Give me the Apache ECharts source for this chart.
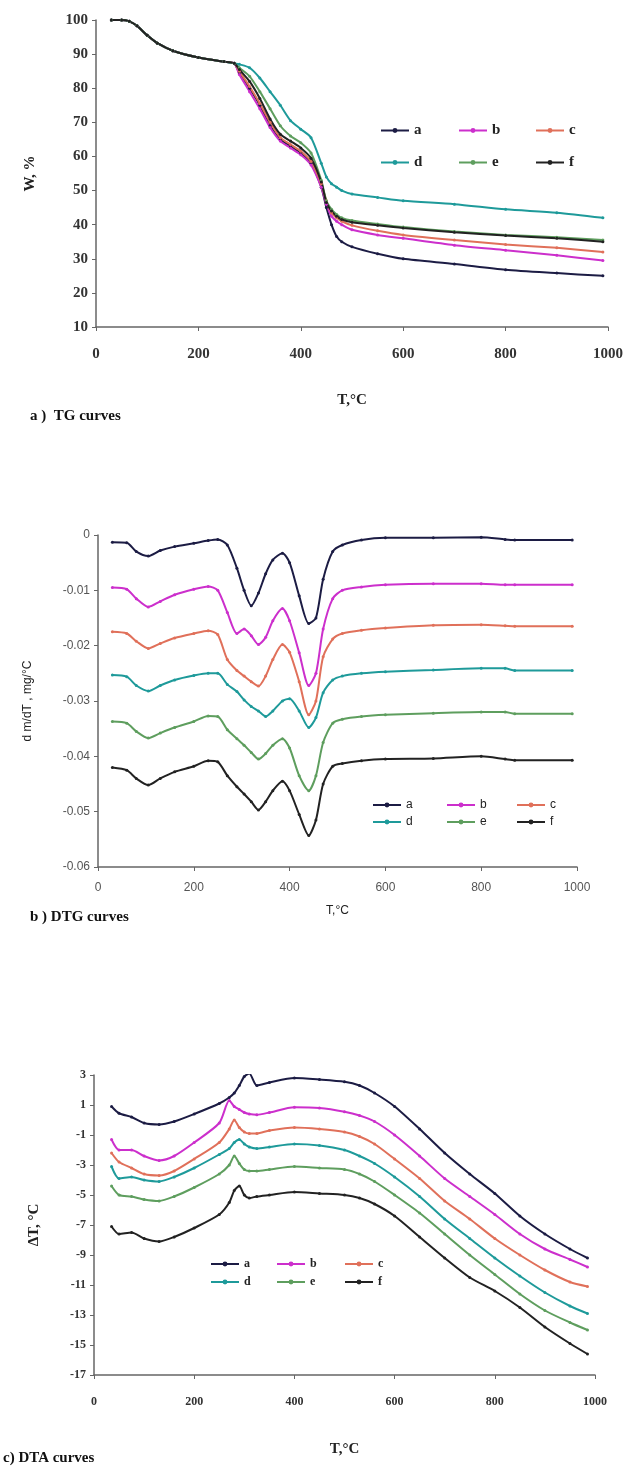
<!DOCTYPE html>
<html><head><meta charset="utf-8">
<script src="https://cdn.jsdelivr.net/npm/echarts@6/dist/echarts.min.js"></script>
<style>html,body{margin:0;padding:0;background:#fff}#c{width:629px;height:1470px}</style>
</head><body><div id="c"></div>
<script>
// ---------- data ----------
var seriesNames = ['a','b','c','d','e','f'];
var xTicks = [0,200,400,600,800,1000];

// TG (W, %)
var tgT = [30,50,65,80,100,120,150,200,250,270,280,300,320,340,360,380,400,420,440,450,460,470,480,500,550,600,700,800,900,990];
var tgA = [100,100,99.6,98.3,95.5,93.2,91,89,87.8,87.3,84.5,80,75,69,65,63,61,58,51,45,40,36.5,35,33.5,31.5,30,28.5,26.8,25.8,25];
var tgB = [100,100,99.6,98.3,95.5,93.2,91,89,87.8,87.3,84,79,74,68.5,64.5,62.5,60.5,57.5,51,46,42.5,41,40,38.5,37,36,34,32.5,31,29.5];
var tgC = [100,100,99.6,98.3,95.5,93.2,91,89,87.8,87.3,85,80.5,75.5,70,65.5,63.5,61.5,58.5,52,47,43.5,42,41,39.8,38.2,37,35.5,34.2,33.2,32];
var tgD = [100,100,99.6,98.3,95.5,93.2,91,89,87.8,87.3,87,86,83,79,75,70.5,68,65.5,58,54,52,51,50,49,48,47,46,44.5,43.5,42];
var tgE = [100,100,99.6,98.3,95.5,93.2,91,89,87.8,87.3,86,83.5,79,74,69,66,64,61,53,47,44.5,43,42,41.2,40.2,39.3,38,37,36.3,35.5];
var tgF = [100,100,99.6,98.3,95.5,93.2,91,89,87.8,87.3,85.5,82,77,71,66.5,64.5,62.5,59.5,52.5,46.5,44,42.5,41.5,40.7,39.8,39,37.8,36.8,36,35];

// DTG (dm/dT, mg/°C)
var dtgT = [30,60,80,105,130,160,200,230,250,270,290,305,320,335,350,365,385,400,420,440,455,470,490,510,550,600,700,800,850,870,990];
var dtgA = [-0.0013,-0.0014,-0.003,-0.0038,-0.0028,-0.0021,-0.0015,-0.001,-0.0008,-0.0018,-0.006,-0.01,-0.0128,-0.0105,-0.007,-0.0045,-0.0033,-0.005,-0.011,-0.016,-0.015,-0.008,-0.003,-0.0018,-0.0009,-0.0005,-0.0005,-0.0004,-0.0008,-0.0009,-0.0009];
var dtgB = [-0.0095,-0.0098,-0.0115,-0.013,-0.012,-0.0108,-0.0098,-0.0093,-0.01,-0.014,-0.0178,-0.017,-0.0182,-0.0198,-0.0185,-0.0155,-0.0133,-0.0155,-0.0213,-0.0272,-0.025,-0.017,-0.0115,-0.01,-0.0094,-0.009,-0.0088,-0.0088,-0.009,-0.009,-0.009];
var dtgC = [-0.0175,-0.0178,-0.0192,-0.0205,-0.0196,-0.0186,-0.0178,-0.0173,-0.018,-0.0225,-0.0245,-0.0255,-0.0265,-0.0273,-0.0255,-0.0225,-0.0198,-0.0212,-0.0265,-0.0325,-0.03,-0.022,-0.0188,-0.0178,-0.0172,-0.0168,-0.0163,-0.0162,-0.0164,-0.0165,-0.0165];
var dtgD = [-0.0253,-0.0256,-0.0272,-0.0282,-0.0272,-0.0262,-0.0254,-0.025,-0.025,-0.027,-0.0283,-0.0298,-0.031,-0.0318,-0.0328,-0.0318,-0.03,-0.0296,-0.0318,-0.0348,-0.033,-0.0285,-0.0262,-0.0255,-0.025,-0.0247,-0.0244,-0.0241,-0.0241,-0.0245,-0.0245];
var dtgE = [-0.0337,-0.034,-0.0355,-0.0367,-0.0358,-0.0348,-0.0337,-0.0327,-0.0328,-0.0352,-0.0368,-0.038,-0.0393,-0.0405,-0.0395,-0.038,-0.0368,-0.0385,-0.0435,-0.0462,-0.0435,-0.0375,-0.034,-0.0333,-0.0328,-0.0325,-0.0322,-0.032,-0.032,-0.0323,-0.0323];
var dtgF = [-0.042,-0.0425,-0.044,-0.0452,-0.044,-0.0428,-0.0418,-0.0408,-0.041,-0.0435,-0.0455,-0.0468,-0.0482,-0.0497,-0.0482,-0.0462,-0.0445,-0.0462,-0.0505,-0.0543,-0.0515,-0.045,-0.0418,-0.0413,-0.0408,-0.0405,-0.0404,-0.04,-0.0405,-0.0407,-0.0407];

// DTA (ΔT, °C)
var dtaT = [35,50,75,100,130,160,200,250,270,280,290,300,310,325,350,400,450,500,530,560,600,650,700,750,800,850,900,950,985];
var dtaA = [0.9,0.45,0.2,-0.2,-0.3,-0.1,0.4,1.1,1.5,1.8,2.3,2.9,3.1,2.3,2.5,2.8,2.7,2.55,2.3,1.8,0.9,-0.6,-2.2,-3.6,-4.9,-6.4,-7.6,-8.6,-9.2];
var dtaB = [-1.3,-2.0,-2.0,-2.4,-2.7,-2.4,-1.5,-0.2,1.3,0.9,0.7,0.5,0.4,0.35,0.5,0.85,0.8,0.55,0.3,-0.1,-1.0,-2.4,-3.9,-5.1,-6.3,-7.6,-8.6,-9.3,-9.8];
var dtaC = [-2.2,-2.8,-3.2,-3.6,-3.7,-3.4,-2.6,-1.5,-0.6,0.0,-0.5,-0.8,-0.9,-0.9,-0.7,-0.5,-0.6,-0.8,-1.1,-1.6,-2.6,-3.9,-5.4,-6.6,-7.9,-9.0,-10.0,-10.8,-11.1];
var dtaD = [-3.1,-3.9,-3.8,-4.0,-4.1,-3.8,-3.2,-2.3,-1.9,-1.5,-1.3,-1.6,-1.8,-1.9,-1.8,-1.6,-1.7,-2.0,-2.4,-2.9,-3.8,-5.1,-6.6,-7.9,-9.2,-10.4,-11.5,-12.4,-12.9];
var dtaE = [-4.4,-5.0,-5.1,-5.3,-5.4,-5.1,-4.5,-3.6,-3.0,-2.4,-2.9,-3.3,-3.4,-3.4,-3.3,-3.1,-3.2,-3.3,-3.6,-4.1,-5.0,-6.2,-7.6,-9.0,-10.3,-11.6,-12.7,-13.5,-14.0];
var dtaF = [-7.1,-7.6,-7.5,-7.9,-8.1,-7.8,-7.2,-6.3,-5.5,-4.7,-4.4,-5.0,-5.2,-5.1,-5.0,-4.8,-4.9,-5.0,-5.2,-5.6,-6.4,-7.8,-9.2,-10.5,-11.4,-12.5,-13.8,-14.9,-15.6];

// ---------- styling ----------
var colors = ['#1c1c44','#cc2fcc','#e0705a','#1e9a9a','#5e9e5e','#222222'];
var serif = '"Liberation Serif", "DejaVu Serif", serif';
var sans = '"Liberation Sans", Arial, sans-serif';
var axisCol = '#666666';

function pairs(xs, ys){ return xs.map(function(x,i){ return [x, ys[i]]; }); }

var panels = [
  {T: tgT, Y: [tgA,tgB,tgC,tgD,tgE,tgF], grid:{left:96,right:21,top:20,height:307},
   ymin:10,ymax:100,yint:10, font:serif, bold:'bold', fs:15, col:'#333', xmargin:20,
   yname:'W, %', ygap:58, xname:'T,°C', xgap:66,
   legX:[380,458,535], legY:[123,155], legFs:15},
  {T: dtgT, Y: [dtgA,dtgB,dtgC,dtgD,dtgE,dtgF], grid:{left:98,right:52,top:535,height:332},
   ymin:-0.06,ymax:0,yint:0.01, font:sans, bold:'normal', fs:12, col:'#555', xmargin:15,
   yname:'d m/dT , mg/°C', ygap:64, xname:'T,°C', xgap:38,
   legX:[372,446,516], legY:[799,816], legFs:12},
  {T: dtaT, Y: [dtaA,dtaB,dtaC,dtaD,dtaE,dtaF], grid:{left:94,right:34,top:1075,height:300},
   ymin:-17,ymax:3,yint:2, font:serif, bold:'bold', fs:12, col:'#333', xmargin:21,
   yname:'ΔT, °C', ygap:52, xname:'T,°C', xgap:67,
   legX:[210,276,344], legY:[1258,1276], legFs:12}
];

var option = {backgroundColor:'#fff', animation:false, grid:[], xAxis:[], yAxis:[], series:[], legend:[], graphic:[]};

panels.forEach(function(p, gi){
  option.grid.push(p.grid);
  option.xAxis.push({type:'value', gridIndex:gi, min:0, max:1000, interval:200,
    name:p.xname, nameLocation:'middle', nameGap:p.xgap,
    nameTextStyle:{fontFamily:p.font, fontWeight:p.bold, fontSize:(gi===1?12:15), color:'#222'},
    axisLine:{show:true, onZero:false, lineStyle:{color:axisCol, width:1.5}},
    axisTick:{show:true, length:4, lineStyle:{color:axisCol}},
    splitLine:{show:false},
    axisLabel:{fontFamily:p.font, fontWeight:p.bold, fontSize:p.fs, color:p.col, margin:p.xmargin,
      formatter:function(v){ return String(v); }}});
  option.yAxis.push({type:'value', gridIndex:gi, min:p.ymin, max:p.ymax, interval:p.yint,
    name:p.yname, nameLocation:'middle', nameGap:p.ygap,
    nameTextStyle:{fontFamily:p.font, fontWeight:p.bold, fontSize:(gi===1?12:15), color:'#222'},
    axisLine:{show:true, onZero:false, lineStyle:{color:axisCol, width:1.5}},
    axisTick:{show:true, length:4, lineStyle:{color:axisCol}},
    splitLine:{show:false},
    axisLabel:{fontFamily:p.font, fontWeight:p.bold, fontSize:p.fs, color:p.col, margin:8,
      formatter:function(v){ var r = Math.round(v*1000)/1000; return r===0 ? '0' : String(r); }}});
  seriesNames.forEach(function(n, si){
    option.series.push({type:'line', name:n, xAxisIndex:gi, yAxisIndex:gi,
      data:pairs(p.T, p.Y[si]), smooth:0.25,
      showSymbol:true, symbol:'circle', symbolSize:3,
      lineStyle:{color:colors[si], width:2},
      itemStyle:{color:colors[si]}});
    option.legend.push({data:[n], left:p.legX[si%3], top:p.legY[Math.floor(si/3)],
      itemWidth:28, itemHeight:6, padding:0,
      textStyle:{fontFamily:p.font, fontWeight:p.bold, fontSize:p.legFs, color:'#222'}});
  });
});

option.graphic = [
  {type:'text', left:30, top:409, style:{text:'a )  TG curves', font:'bold 15px "Liberation Serif", serif', fill:'#111'}},
  {type:'text', left:30, top:910, style:{text:'b ) DTG curves', font:'bold 15px "Liberation Serif", serif', fill:'#111'}},
  {type:'text', left:3, top:1451, style:{text:'c) DTA curves', font:'bold 15px "Liberation Serif", serif', fill:'#111'}}
];

var chart = echarts.init(document.getElementById('c'), null, {renderer:'canvas'});
chart.setOption(option);
</script></body></html>
